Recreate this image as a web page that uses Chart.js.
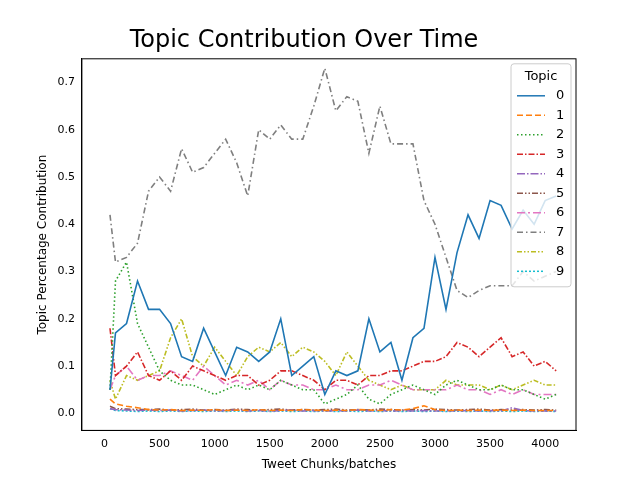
<!DOCTYPE html>
<html>
<head>
<meta charset="utf-8">
<script src="https://cdn.jsdelivr.net/npm/chart.js@4.4.0/dist/chart.umd.min.js"></script>
<style>
  body { margin: 0; background: #fff; }
  #wrap { width: 640px; height: 480px; }
</style>
</head>
<body>
<div id="wrap"><canvas id="topicChart"></canvas></div>
<script>
// posiciones en el eje x (chunks)
const xs = [50, 100, 200, 300, 400, 500, 600, 700, 800, 900, 1000, 1100, 1200, 1300, 1400, 1500, 1600, 1700, 1800, 1900, 2000,
            2100, 2200, 2300, 2400, 2500, 2600, 2700, 2800, 2900, 3000, 3100, 3200, 3300, 3400, 3500, 3600, 3700, 3800, 3900, 4000, 4100];

const topic0 = [0.05, 0.17, 0.19, 0.28, 0.22, 0.22, 0.19, 0.12, 0.11, 0.18, 0.13, 0.08, 0.14, 0.13, 0.11, 0.13, 0.20, 0.08, 0.10, 0.12, 0.04,
                0.09, 0.08, 0.09, 0.20, 0.13, 0.15, 0.07, 0.16, 0.18, 0.33, 0.22, 0.34, 0.42, 0.37, 0.45, 0.44, 0.39, 0.43, 0.40, 0.45, 0.46];
const topic1 = [0.03, 0.02, 0.015, 0.012, 0.008, 0.007, 0.008, 0.006, 0.007, 0.006, 0.008, 0.006, 0.007, 0.006, 0.008, 0.006, 0.007, 0.006, 0.008, 0.007, 0.006,
                0.007, 0.006, 0.008, 0.007, 0.006, 0.008, 0.007, 0.01, 0.016, 0.008, 0.006, 0.007, 0.006, 0.007, 0.006, 0.007, 0.006, 0.007, 0.006, 0.006, 0.006];
const topic2 = [0.05, 0.28, 0.32, 0.19, 0.14, 0.09, 0.07, 0.06, 0.06, 0.05, 0.04, 0.05, 0.06, 0.05, 0.06, 0.05, 0.07, 0.06, 0.05, 0.05, 0.02,
                0.03, 0.04, 0.06, 0.03, 0.02, 0.04, 0.05, 0.06, 0.05, 0.04, 0.06, 0.07, 0.06, 0.05, 0.05, 0.06, 0.05, 0.05, 0.04, 0.03, 0.04];
const topic3 = [0.18, 0.08, 0.10, 0.13, 0.08, 0.07, 0.09, 0.07, 0.10, 0.09, 0.08, 0.07, 0.08, 0.08, 0.06, 0.07, 0.09, 0.09, 0.08, 0.07, 0.05,
                0.07, 0.07, 0.06, 0.08, 0.08, 0.09, 0.09, 0.10, 0.11, 0.11, 0.12, 0.15, 0.14, 0.12, 0.14, 0.16, 0.12, 0.13, 0.10, 0.11, 0.09];
const topic4 = [0.01, 0.008, 0.007, 0.006, 0.007, 0.006, 0.007, 0.005, 0.006, 0.007, 0.005, 0.006, 0.007, 0.005, 0.006, 0.005, 0.006, 0.007, 0.005, 0.006, 0.005,
                0.006, 0.005, 0.007, 0.005, 0.006, 0.005, 0.006, 0.005, 0.006, 0.005, 0.006, 0.005, 0.006, 0.005, 0.006, 0.005, 0.012, 0.006, 0.005, 0.005, 0.005];
const topic5 = [0.015, 0.01, 0.009, 0.008, 0.008, 0.009, 0.007, 0.008, 0.009, 0.007, 0.008, 0.007, 0.009, 0.008, 0.007, 0.008, 0.009, 0.007, 0.008, 0.007, 0.008,
                0.009, 0.007, 0.008, 0.007, 0.009, 0.008, 0.007, 0.008, 0.007, 0.009, 0.008, 0.007, 0.008, 0.009, 0.007, 0.008, 0.007, 0.008, 0.007, 0.008, 0.007];
const topic6 = [0.05, 0.08, 0.10, 0.07, 0.08, 0.08, 0.09, 0.08, 0.07, 0.10, 0.08, 0.06, 0.07, 0.06, 0.07, 0.05, 0.07, 0.06, 0.06, 0.05, 0.05,
                0.06, 0.05, 0.05, 0.06, 0.06, 0.07, 0.06, 0.05, 0.05, 0.05, 0.05, 0.06, 0.05, 0.05, 0.04, 0.05, 0.04, 0.05, 0.04, 0.04, 0.04];
const topic7 = [0.42, 0.32, 0.33, 0.36, 0.47, 0.50, 0.47, 0.56, 0.51, 0.52, 0.55, 0.58, 0.53, 0.46, 0.60, 0.58, 0.61, 0.58, 0.58, 0.65, 0.73,
                0.64, 0.67, 0.66, 0.55, 0.65, 0.57, 0.57, 0.57, 0.45, 0.40, 0.33, 0.26, 0.245, 0.26, 0.27, 0.27, 0.27, 0.30, 0.28, 0.29, 0.30];
const topic8 = [0.07, 0.03, 0.08, 0.07, 0.08, 0.09, 0.16, 0.20, 0.12, 0.10, 0.14, 0.11, 0.08, 0.12, 0.14, 0.13, 0.15, 0.12, 0.14, 0.13, 0.11,
                0.08, 0.13, 0.10, 0.07, 0.06, 0.05, 0.06, 0.05, 0.05, 0.05, 0.07, 0.06, 0.06, 0.06, 0.05, 0.06, 0.05, 0.06, 0.07, 0.06, 0.06];
const topic9 = [0.01, 0.006, 0.005, 0.004, 0.005, 0.004, 0.005, 0.004, 0.005, 0.004, 0.005, 0.004, 0.005, 0.004, 0.005, 0.004, 0.005, 0.004, 0.005, 0.004, 0.005,
                0.004, 0.005, 0.004, 0.005, 0.004, 0.005, 0.004, 0.005, 0.004, 0.005, 0.004, 0.005, 0.004, 0.005, 0.004, 0.005, 0.004, 0.005, 0.004, 0.005, 0.004];

const topicLabels = ['0', '1', '2', '3', '4', '5', '6', '7', '8', '9'];
const xTicks = [0, 500, 1000, 1500, 2000, 2500, 3000, 3500, 4000];
const yTicks = [0.0, 0.1, 0.2, 0.3, 0.4, 0.5, 0.6, 0.7];

// estilo tipo seaborn / matplotlib
const colors = ['#1f77b4', '#ff7f0e', '#2ca02c', '#d62728', '#9467bd', '#8c564b', '#e377c2', '#7f7f7f', '#bcbd22', '#17becf'];
const dashes = [[], [6, 3], [1.5, 2.5], [6, 2, 1.5, 2], [8, 2, 1.5, 2], [6, 2, 1.5, 2, 1.5, 2], [8, 3, 2, 3], [6, 3, 1.5, 3], [5, 2, 1.5, 2, 1.5, 2], [2, 2]];
const series = [topic0, topic1, topic2, topic3, topic4, topic5, topic6, topic7, topic8, topic9];

const datasets = series.map((vals, i) => ({
    label: topicLabels[i],
    data: vals.map((v, j) => ({ x: xs[j], y: v })),
    borderColor: colors[i],
    borderWidth: 1.6,
    borderDash: dashes[i],
    pointRadius: 0,
    tension: 0,
    fill: false
}));

// marco completo + leyenda dentro del área
const framePlugin = {
    id: 'frame',
    afterDraw(chart) {
        const { ctx, chartArea: a } = chart;
        ctx.save();
        ctx.strokeStyle = '#000';
        ctx.lineWidth = 1;
        ctx.strokeRect(a.left, a.top, a.right - a.left, a.bottom - a.top);

        // leyenda
        const w = 60, rowH = 19.5;
        const lx = a.right - w - 5, ly = a.top + 5;
        const h = 28 + rowH * topicLabels.length;
        ctx.fillStyle = 'rgba(255,255,255,0.8)';
        ctx.strokeStyle = '#ccc';
        ctx.beginPath();
        ctx.roundRect(lx, ly, w, h, 3);
        ctx.fill();
        ctx.stroke();
        ctx.fillStyle = '#000';
        ctx.font = '13px "DejaVu Sans"';
        ctx.textAlign = 'center';
        ctx.textBaseline = 'middle';
        ctx.fillText('Topic', lx + w / 2, ly + 13);
        topicLabels.forEach((lab, i) => {
            const yy = ly + 32 + i * rowH;
            ctx.strokeStyle = colors[i];
            ctx.lineWidth = 1.5;
            ctx.setLineDash(dashes[i]);
            ctx.beginPath();
            ctx.moveTo(lx + 6, yy);
            ctx.lineTo(lx + 34, yy);
            ctx.stroke();
            ctx.setLineDash([]);
            ctx.fillStyle = '#000';
            ctx.textAlign = 'left';
            ctx.fillText(lab, lx + 45, yy);
        });
        ctx.restore();
    }
};

new Chart(document.getElementById('topicChart'), {
    type: 'line',
    data: { datasets: datasets },
    options: {
        responsive: true,
        maintainAspectRatio: false,
        animation: false,
        layout: { padding: { top: 4, right: 64, left: 32, bottom: 4 } },
        plugins: {
            legend: { display: false },
            tooltip: { enabled: false },
            title: {
                display: true,
                text: 'Topic Contribution Over Time',
                color: '#000',
                font: { family: 'DejaVu Sans', size: 24, weight: 'normal' },
                padding: { top: 22, bottom: 4 }
            }
        },
        scales: {
            x: {
                type: 'linear',
                min: -205, max: 4280,
                grid: { display: false, drawTicks: true, tickLength: 4, color: '#000' },
                border: { color: '#000' },
                afterBuildTicks: axis => { axis.ticks = xTicks.map(v => ({ value: v })); },
                ticks: { color: '#000', font: { family: 'DejaVu Sans', size: 11 }, maxRotation: 0, callback: v => String(v) },
                title: { display: true, text: 'Tweet Chunks/batches', color: '#000', font: { family: 'DejaVu Sans', size: 12 } }
            },
            y: {
                min: -0.036, max: 0.75,
                grid: { display: false, drawTicks: true, tickLength: 4, color: '#000' },
                border: { color: '#000' },
                afterBuildTicks: axis => { axis.ticks = yTicks.map(v => ({ value: v })); },
                ticks: { color: '#000', font: { family: 'DejaVu Sans', size: 11 }, callback: v => Number(v).toFixed(1) },
                title: { display: true, text: 'Topic Percentage Contribution', color: '#000', font: { family: 'DejaVu Sans', size: 12 } }
            }
        }
    },
    plugins: [framePlugin]
});
</script>
</body>
</html>
